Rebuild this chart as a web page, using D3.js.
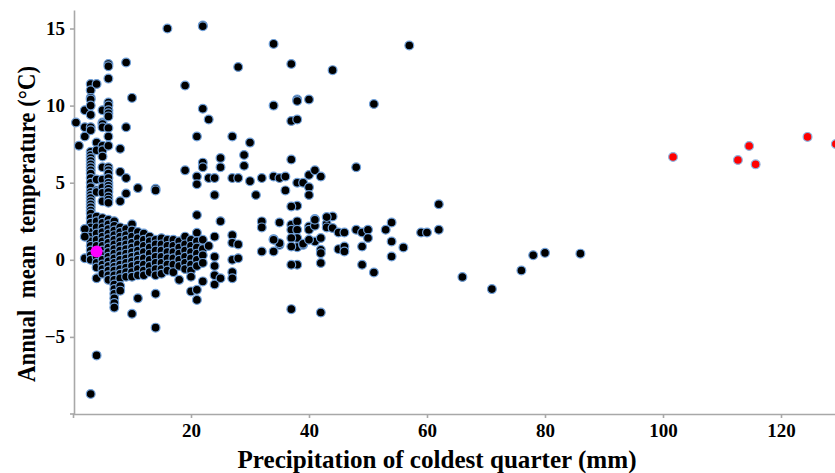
<!DOCTYPE html>
<html>
<head>
<meta charset="utf-8">
<script src="https://cdn.jsdelivr.net/npm/d3@7"></script>
<style>
  html, body { margin: 0; padding: 0; background: #fff; overflow: hidden; }
</style>
</head>
<body>
<script>
const WIDTH = 835;
const HEIGHT = 473;
const FONT = '"Liberation Serif", "Times New Roman", serif';
const AXIS = '#a8a8a8';

// x ticks / y ticks
const xTicks = [20, 40, 60, 80, 100, 120];
const yTicks = [-5, 0, 5, 10, 15];

// warm sites, upper left (precip mm, temp °C)
const warmPoints = [
  [0.5, 8.9], [1, 7.4], [2, 8.0], [2, 8.6], [2, 9.7],
  [3, 11.4], [3, 11.0], [3, 10.5], [3, 10.4], [3, 10.0], [3, 9.4], [3, 8.6], [3, 8.4],
  [3, 7.0], [3, 6.8], [3, 6.6], [3, 6.4], [3, 6.2], [3, 6.0], [3, 5.8], [3, 5.6], [3, 5.3],
  [3, 5.0], [3, 4.7], [3, 4.4], [3, 4.2], [3, 4.0], [3, 3.8], [3, 3.6], [3, 3.4], [3, 3.2],
  [3, 3.0], [3, 2.7], [3, 2.4], [3, 2.1], [3, 1.8], [3, 1.5], [3, 1.2],
  [4, 11.4], [4, 7.6], [4, 7.1], [4, 5.2], [4, 4.5], [4, 4.4],
  [5, 9.7], [5, 8.9], [5, 8.8], [5, 8.6], [5, 7.4], [5, 7.1], [5, 6.7], [5, 6.0],
  [5, 5.2], [5, 4.7], [5, 4.35], [5, 3.8],
  [6, 12.7], [6, 12.55], [6, 11.75], [6, 10.2], [6, 10.0], [6, 9.7], [6, 9.5], [6, 9.3],
  [6, 8.55], [6, 8.0], [6, 7.4], [6, 6.0], [6, 5.8], [6, 5.6], [6, 5.3], [6, 5.0],
  [6, 4.8], [6, 4.6], [6, 4.4], [6, 4.1], [6, 3.9], [6, 3.7],
  [8, 7.2], [8, 5.7], [8, 3.8], [9, 12.8], [9, 8.6], [9, 5.3], [9, 4.3], [10, 10.5],
  [11, 4.65], [14, 4.6], [14, 4.5], [16, 15.0], [19, 11.3], [19, 5.8],
  [21, 8.0], [21, 5.4], [21, 4.9], [21, 2.9], [22, 15.2], [22, 15.15], [22, 9.8],
  [22, 6.3], [22, 6.0], [23, 9.1], [23, 5.3], [24, 5.3], [24, 4.2], [25, 6.6], [25, 6.0],
  [27, 8.0], [27, 5.3], [28, 12.5], [28, 5.3], [29, 6.8], [29, 6.1], [30, 7.6], [30, 5.1], [31, 4.2]
];

// dense cold cluster, 2-28 mm
const clusterPoints = [
  [2, 2.0], [2, 1.5], [2, 0.1], [3, 0.9], [3, 0.6], [3, 0.3], [3, 0.0],
  [4, 2.8], [4, 2.5], [4, 2.1], [4, 1.7], [4, 1.3], [4, 0.9], [4, 0.2], [4, -0.2], [4, -0.5], [4, -1.2],
  [5, 2.7], [5, 2.4], [5, 2.1], [5, 1.8], [5, 1.5], [5, 1.2], [5, 0.9], [5, 0.6], [5, 0.3],
  [5, 0.0], [5, -0.3], [5, -0.6], [5, -0.9],
  [6, 2.6], [6, 2.3], [6, 2.0], [6, 1.7], [6, 1.4], [6, 1.1], [6, 0.8], [6, 0.5], [6, 0.2],
  [6, -0.1], [6, -0.4], [6, -0.7], [6, -1.0], [6, -1.3],
  [7, 2.5], [7, 2.2], [7, 1.9], [7, 1.6], [7, 1.3], [7, 1.0], [7, 0.7], [7, 0.4], [7, 0.1],
  [7, -0.2], [7, -0.45], [7, -0.7], [7, -1.0], [7, -1.3], [7, -1.6], [7, -1.9], [7, -2.2],
  [7, -2.5], [7, -2.8], [7, -3.1],
  [8, 2.1], [8, 1.8], [8, 1.5], [8, 1.2], [8, 0.9], [8, 0.6], [8, 0.3], [8, 0.0], [8, -0.3],
  [8, -0.6], [8, -0.9], [8, -1.2], [8, -1.7], [8, -2.0],
  [9, 2.0], [9, 1.6], [9, 1.3], [9, 1.0], [9, 0.7], [9, 0.4], [9, 0.1], [9, -0.2], [9, -0.5],
  [9, -0.8], [9, -1.1],
  [10, 2.3], [10, 1.9], [10, 1.5], [10, 1.1], [10, 0.8], [10, 0.5], [10, 0.2], [10, -0.1],
  [10, -0.4], [10, -0.8], [10, -1.1], [10, -3.5],
  [11, 1.8], [11, 1.4], [11, 1.0], [11, 0.6], [11, 0.3], [11, 0.0], [11, -0.3], [11, -0.6],
  [11, -1.0], [11, -2.5],
  [12, 1.7], [12, 1.3], [12, 0.9], [12, 0.5], [12, 0.1], [12, -0.3], [12, -0.7], [12, -1.0],
  [13, 1.5], [13, 1.2], [13, 0.8], [13, 0.4], [13, 0.0], [13, -0.4], [13, -0.8],
  [14, 1.3], [14, 1.0], [14, 0.6], [14, 0.2], [14, -0.2], [14, -0.6], [14, -1.0], [14, -2.2], [14, -4.4],
  [15, 1.4], [15, 1.0], [15, 0.6], [15, 0.2], [15, -0.2], [15, -0.6], [15, -0.9],
  [16, 1.3], [16, 0.9], [16, 0.5], [16, 0.1], [16, -0.3], [16, -0.7],
  [17, 1.3], [17, 0.9], [17, 0.5], [17, 0.1], [17, -0.3], [17, -0.8],
  [18, 1.2], [18, 0.8], [18, 0.4], [18, 0.0], [18, -0.4], [18, -1.3],
  [19, 1.5], [19, 1.0], [19, 0.6], [19, 0.2], [19, -0.2], [19, -0.6],
  [20, 1.3], [20, 0.9], [20, 0.5], [20, 0.1], [20, -0.3], [20, -0.7], [20, -1.1], [20, -2.05],
  [21, 1.75], [21, 1.2], [21, 0.8], [21, 0.4], [21, 0.0], [21, -0.4], [21, -1.95], [21, -2.6],
  [22, 1.3], [22, 0.7], [22, 0.3], [22, -0.2], [22, -1.4], [23, 0.9],
  [24, 1.5], [24, 0.2], [24, -0.4], [24, -1.0], [24, -1.6], [25, 2.5], [25, -1.2],
  [27, 1.6], [27, 1.1], [27, 0.0], [27, -0.8], [27, -1.2], [28, 1.0], [28, 0.1],
  [3, -8.7], [4, -6.2]
];

// wetter sites, 30-90 mm
const wetPoints = [
  [34, 14.0], [34, 10.0], [37, 12.7], [44, 12.3], [38, 10.4], [38, 10.3], [40, 10.4],
  [51, 10.1], [57, 13.9], [37, 9.0], [38, 9.1], [37, 6.5], [48, 6.0],
  [32, 5.3], [34, 5.4], [35, 5.3], [36, 5.4], [38, 5.0], [39, 5.0], [40, 5.5], [41, 5.8], [42, 5.4],
  [36, 4.5], [40, 4.7], [40, 4.2], [38, 3.5], [37, 3.46], [62, 3.6],
  [32, 2.49], [32, 2.1], [35, 2.42], [37, 2.27], [37, 1.95], [38, 2.49], [38, 1.95], [40, 2.16],
  [40, 1.95], [41, 2.64], [41, 2.21], [43, 2.34], [43, 2.1], [44, 2.81], [44, 2.06], [45, 1.77],
  [46, 1.77], [48, 1.95], [49, 1.77], [50, 1.95], [53, 1.95], [54, 2.42], [59, 1.77], [60, 1.77],
  [62, 1.95], [43, 2.77], [41, 2.6],
  [34, 1.34], [35, 0.97], [38, 1.41], [38, 0.82], [39, 0.97], [41, 1.19], [42, 1.41], [42, 0.65],
  [42, 0.43], [45, 0.69], [46, 0.86], [46, 0.54], [49, 0.86], [50, 1.41], [54, 1.19], [56, 0.8],
  [32, 0.54], [34, 0.54], [37, 1.41], [37, 0.86], [39, 1.04], [40, 1.3], [35, 1.08], [34, 1.3],
  [38, -0.32], [42, -0.21], [49, -0.32], [51, -0.82], [54, 0.21], [37, -0.32],
  [66, -1.12], [71, -1.9], [76, -0.69], [78, 0.3], [80, 0.45], [86, 0.4],
  [37, -3.2], [42, -3.42]
];

// red highlighted sites
const redPoints = [
  [101.7, 6.67], [112.7, 6.47], [114.6, 7.38], [115.7, 6.19], [124.5, 7.97], [129.3, 7.51]
];

// magenta focal site
const focalPoint = [[4, 0.54]];

const svg = d3.select('body').append('svg')
  .attr('width', WIDTH)
  .attr('height', HEIGHT)
  .style('display', 'block');

const x = d3.scaleLinear().domain([0, 130]).range([73, 840]);
const y = d3.scaleLinear().domain([-10, 16.2]).range([414, 10]);

// axes
const xAxis = svg.append('g')
  .attr('transform', 'translate(0,414)')
  .call(d3.axisBottom(x).tickValues(xTicks).tickSize(4).tickSizeOuter(4).tickPadding(6));
const yAxis = svg.append('g')
  .attr('transform', 'translate(74,0)')
  .call(d3.axisLeft(y).tickValues(yTicks).tickSize(4).tickSizeOuter(0).tickPadding(5));

[xAxis, yAxis].forEach((g) => {
  g.selectAll('path, line').attr('stroke', AXIS).attr('stroke-width', 1.6);
  g.selectAll('text')
    .attr('fill', '#000')
    .attr('font-size', 19)
    .attr('font-weight', 700)
    .attr('font-family', FONT);
});
svg.append('line')
  .attr('x1', 70).attr('x2', 74).attr('y1', 414).attr('y2', 414)
  .attr('stroke', AXIS).attr('stroke-width', 1.6);

// points
function drawPoints(data, fill, r, stroke) {
  svg.append('g').selectAll('circle')
    .data(data)
    .join('circle')
    .attr('cx', (d) => x(d[0]))
    .attr('cy', (d) => y(d[1]))
    .attr('r', r)
    .attr('fill', fill)
    .attr('stroke', stroke)
    .attr('stroke-width', stroke === 'none' ? 0 : 1.2);
}

drawPoints(warmPoints, '#000', 4.4, '#6f9fd8');
drawPoints(clusterPoints, '#000', 4.4, '#6f9fd8');
drawPoints(wetPoints, '#000', 4.4, '#6f9fd8');
drawPoints(redPoints, '#ff0000', 4.4, '#8fb4e0');
drawPoints(focalPoint, '#ff00ff', 6, 'none');

// axis titles
svg.append('text')
  .attr('x', 437)
  .attr('y', 468)
  .attr('text-anchor', 'middle')
  .attr('font-family', FONT)
  .attr('font-weight', 700)
  .attr('font-size', 25)
  .attr('textLength', 399)
  .attr('lengthAdjust', 'spacingAndGlyphs')
  .text('Precipitation of coldest quarter (mm)');

svg.append('text')
  .attr('transform', 'translate(35,224) rotate(-90)')
  .attr('text-anchor', 'middle')
  .attr('font-family', FONT)
  .attr('font-weight', 700)
  .attr('font-size', 25)
  .attr('textLength', 316)
  .attr('lengthAdjust', 'spacingAndGlyphs')
  .style('white-space', 'pre')
  .text('Annual  mean  temperature (°C)');
</script>
</body>
</html>
